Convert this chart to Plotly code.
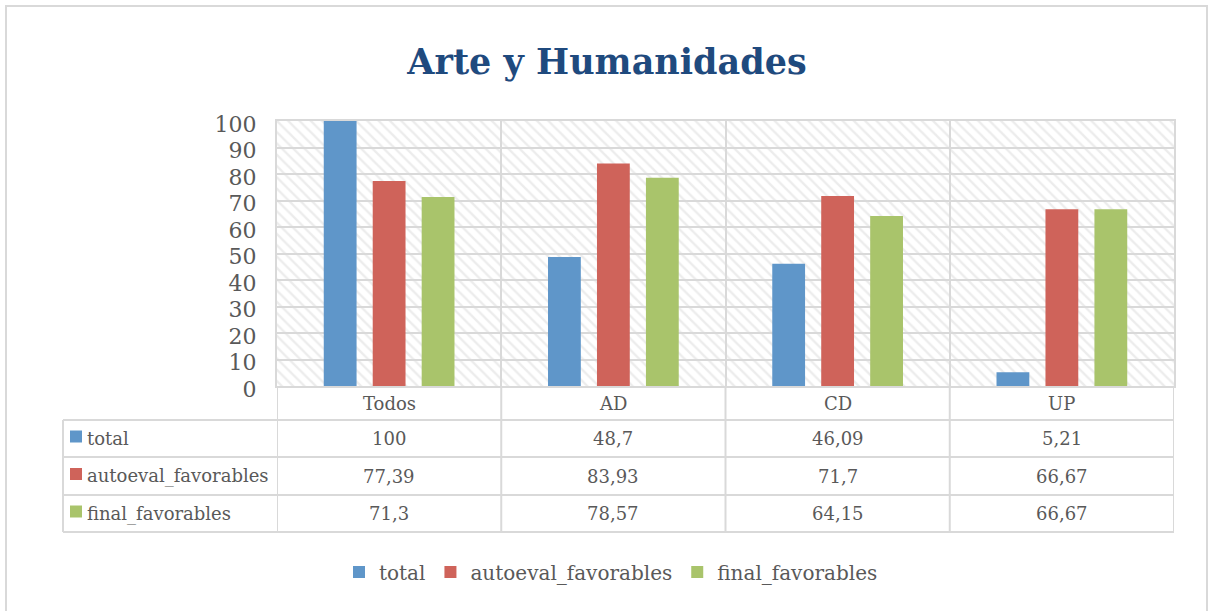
import plotly.graph_objects as go

categories = ["Todos", "AD", "CD", "UP"]
series_names = ["total", "autoeval_favorables", "final_favorables"]
total = [100, 48.7, 46.09, 5.21]
autoeval_favorables = [77.39, 83.93, 71.7, 66.67]
final_favorables = [71.3, 78.57, 64.15, 66.67]
y_ticks = list(range(0, 101, 10))

series_values = [total, autoeval_favorables, final_favorables]
colors = ["#5f96c9", "#cf635a", "#a9c46b"]

FONT = "DejaVu Serif"
TXT = "#595959"
GRID = "#d9d9d9"

W, H = 1208, 611
L, R, T, B = 277, 1174, 121, 386
PW, PH = R - L, B - T


def px(xp):
    return (xp - L) / PW


def py(yp):
    return (B - yp) / PH


def fmt(v):
    if float(v).is_integer():
        return str(int(v))
    return ("%g" % v).replace(".", ",")


fig = go.Figure()

# hatched plot-area background on base axes
fig.add_trace(go.Bar(
    x=[len(categories) / 2], y=[max(y_ticks)], width=[len(categories)],
    xaxis="x", yaxis="y", showlegend=False, hoverinfo="skip",
    marker=dict(color="rgba(0,0,0,0)", line=dict(width=0),
                pattern=dict(shape="\\", fgcolor="#dadada", bgcolor="rgba(0,0,0,0)",
                             size=8, solidity=0.3, fillmode="overlay")),
))

for name, vals, c in zip(series_names, series_values, colors):
    fig.add_trace(go.Bar(
        x=categories, y=vals, name=name, xaxis="x2", yaxis="y2",
        marker=dict(color=c, line=dict(width=0)),
    ))

shapes = []
annotations = []
TFS = 18

# table geometry (pixels)
row_lines = [420, 457, 495, 532]
table_left = 63
for yl in row_lines:
    shapes.append(dict(type="line", xref="paper", yref="paper", x0=px(table_left), x1=1,
                       y0=py(yl), y1=py(yl), line=dict(color=GRID, width=2)))
for i in range(len(categories) + 1):
    shapes.append(dict(type="line", xref="x", yref="paper", x0=i, x1=i,
                       y0=py(row_lines[-1]), y1=0, line=dict(color=GRID, width=2)))
shapes.append(dict(type="line", xref="paper", yref="paper", x0=px(table_left), x1=px(table_left),
                   y0=py(row_lines[-1]), y1=py(row_lines[0]), line=dict(color=GRID, width=2)))

# header row: categories
for cat in categories:
    annotations.append(dict(x=cat, xref="x2", y=py((B + row_lines[0]) / 2), yref="paper",
                            text=cat, showarrow=False, font=dict(family=FONT, size=TFS, color=TXT),
                            xanchor="center", yanchor="middle"))
# data rows
for r, (name, vals, c) in enumerate(zip(series_names, series_values, colors)):
    yc = py((row_lines[r] + row_lines[r + 1]) / 2)
    shapes.append(dict(type="rect", xref="paper", yref="paper",
                       x0=px(70), x1=px(82), y0=yc - 4 / PH, y1=yc + 8 / PH,
                       fillcolor=c, line=dict(width=0)))
    annotations.append(dict(x=px(85), xref="paper", y=yc, yref="paper", text=name,
                            showarrow=False, font=dict(family=FONT, size=TFS, color=TXT),
                            xanchor="left", yanchor="middle"))
    for cat, v in zip(categories, vals):
        annotations.append(dict(x=cat, xref="x2", y=yc, yref="paper", text=fmt(v),
                                showarrow=False, font=dict(family=FONT, size=TFS, color=TXT),
                                xanchor="center", yanchor="middle"))

# outer chart border
shapes.append(dict(type="rect", xref="paper", yref="paper",
                   x0=px(6), x1=px(1207), y0=py(616), y1=py(6),
                   line=dict(color="#d9d9d9", width=2), fillcolor="rgba(0,0,0,0)"))

fig.update_layout(
    width=W, height=H,
    margin=dict(l=L, r=W - R, t=T, b=H - B),
    paper_bgcolor="white", plot_bgcolor="white",
    barmode="group", bargap=0.345, bargroupgap=0.33,
    title=dict(text="<b>Arte y Humanidades</b>", x=607 / W, xref="container", xanchor="center",
               y=1 - 62 / H, yanchor="middle",
               font=dict(family=FONT, size=35, color="#1f4a7e")),
    xaxis=dict(range=[0, len(categories)], dtick=1, tick0=0, showgrid=True, gridcolor=GRID,
               gridwidth=2, showticklabels=False, zeroline=False, showline=True,
               linecolor=GRID, linewidth=2, mirror=True, ticks="", fixedrange=True),
    yaxis=dict(range=[0, 100], tickvals=y_ticks, showgrid=True, gridcolor=GRID, gridwidth=2,
               zeroline=False, showline=True, linecolor=GRID, linewidth=2, mirror=True,
               tickfont=dict(family=FONT, size=22, color=TXT), ticks="",
               ticklabelstandoff=14, ticklabelshift=3),
    xaxis2=dict(overlaying="x", type="category", showticklabels=False, showgrid=False,
                zeroline=False, showline=False, ticks="", categoryorder="array",
                categoryarray=categories),
    yaxis2=dict(overlaying="y", range=[0, 100], showticklabels=False, showgrid=False,
                zeroline=False, showline=False, ticks=""),
    legend=dict(orientation="h", x=px(611), xanchor="center", y=py(572), yanchor="middle",
                font=dict(family=FONT, size=20, color=TXT), bgcolor="rgba(0,0,0,0)",
                itemwidth=30, traceorder="normal"),
    shapes=shapes, annotations=annotations,
    showlegend=True,
)

fig.write_html("out.html", config={"displayModeBar": False},
               post_script="document.body.style.margin='0px';")
